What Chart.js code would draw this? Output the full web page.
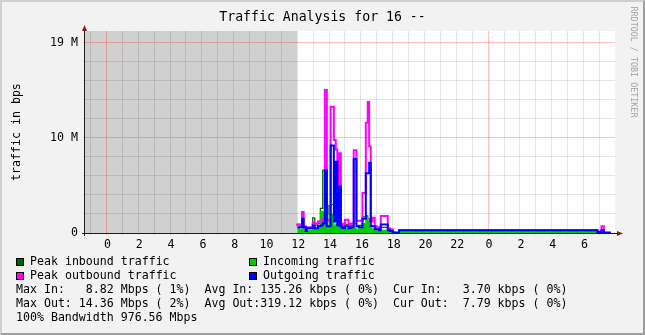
<!DOCTYPE html>
<html><head><meta charset="utf-8">
<script src="https://cdn.jsdelivr.net/npm/chart.js@4.4.1/dist/chart.umd.min.js"></script>
<style>
html,body{margin:0;padding:0;}
body{width:645px;height:335px;overflow:hidden;position:relative;background:#f2f2f2;font-family:'DejaVu Sans Mono',monospace;color:#000;}
#frame{position:absolute;left:0;top:0;width:645px;height:335px;box-sizing:border-box;border-style:solid;border-width:2px;border-color:#cfcfcf #9e9e9e #9e9e9e #cfcfcf;pointer-events:none;}
#c{position:absolute;left:0;top:0;}
.t{position:absolute;white-space:pre;font-size:11.6px;line-height:14px;}
.sw{position:absolute;width:6px;height:6px;border:1px solid #000;}
#title{position:absolute;left:0;top:9px;width:645px;text-align:center;font-size:13.2px;line-height:16px;white-space:pre;}
#ytitle{position:absolute;left:-84.5px;top:124.5px;width:200px;text-align:center;font-size:11.6px;line-height:14px;transform:rotate(-90deg);white-space:pre;}
#wm{position:absolute;left:534px;top:57px;width:200px;text-align:center;font-size:8.4px;line-height:10px;color:#a3a3a3;transform:rotate(90deg);white-space:pre;}
</style>
</head><body>
<canvas id="c" width="645" height="335"></canvas>
<div id="title">Traffic Analysis for 16 --</div>
<div id="ytitle">traffic in bps</div>
<div id="wm">RRDTOOL / TOBI OETIKER</div>
<div class="sw" style="left:16px;top:258px;background:#006400"></div>
<div class="t" style="left:30px;top:254px">Peak inbound traffic</div>
<div class="sw" style="left:249px;top:258px;background:#00cc00"></div>
<div class="t" style="left:263px;top:254px">Incoming traffic</div>
<div class="sw" style="left:16px;top:272px;background:#ff00ff"></div>
<div class="t" style="left:30px;top:268px">Peak outbound traffic</div>
<div class="sw" style="left:249px;top:272px;background:#0000ff"></div>
<div class="t" style="left:263px;top:268px">Outgoing traffic</div>
<div class="t" style="left:16px;top:282px">Max In:   8.82 Mbps ( 1%)  Avg In: 135.26 kbps ( 0%)  Cur In:   3.70 kbps ( 0%)</div>
<div class="t" style="left:16px;top:296px">Max Out: 14.36 Mbps ( 2%)  Avg Out:319.12 kbps ( 0%)  Cur Out:  7.79 kbps ( 0%)</div>
<div class="t" style="left:16px;top:310px">100% Bandwidth 976.56 Mbps</div>
<div id="frame"></div>
<script>
// ---- data (x in hours since midnight of first day, y in 1e6 bps) ----
const hours = [12.00,12.17,12.30,12.40,12.53,12.60,12.97,13.10,13.30,13.45,13.60,13.73,13.86,13.99,14.10,14.30,14.42,14.52,14.61,14.74,14.86,15.00,15.22,15.35,15.55,15.72,15.87,16.10,16.31,16.43,16.52,16.62,16.73,16.87,17.00,17.13,17.25,17.69,17.82,18.00,18.13,18.40,30.88,31.13,31.28,31.40,31.72];
const peakIn = [0.7,0.9,0.6,0.8,0.5,0.25,0.5,1.6,0.8,1.0,2.6,6.6,6.6,2.0,2.9,3.0,1.5,1.8,1.0,1.2,0.8,0.7,0.9,0.7,0.8,1.0,0.7,0.8,1.7,1.8,1.5,1.2,0.8,0.7,0.5,0.6,0.4,0.6,0.4,0.3,0.12,0.1,0.2,0.1,0.2,0.1,0.1];
const inTraffic = [0.45,0.5,0.4,0.5,0.3,0.1,0.3,0.6,0.5,0.6,2.3,2.2,1.0,0.8,2.1,2.0,0.8,1.0,0.6,0.7,0.5,0.4,0.5,0.4,0.5,0.5,0.4,0.5,1.0,1.7,1.2,0.8,0.5,0.4,0.3,0.3,0.2,0.3,0.2,0.15,0.1,0.1,0.15,0.1,0.15,0.1,0.1];
const peakOut = [0.8,0.9,0.8,2.2,0.7,0.3,0.6,1.1,1.0,1.2,1.2,1.5,15.05,1.4,1.3,13.3,9.8,8.8,1.3,8.4,1.0,0.9,1.4,0.9,1.0,8.7,1.3,1.3,4.2,11.6,13.8,9.1,1.2,1.6,0.7,0.6,0.5,1.8,0.5,0.4,0.05,0.0,0.3,0.15,0.7,0.0,0.0];
const outTraffic = [0.6,0.6,0.6,1.5,0.6,0.2,0.5,0.8,0.5,0.7,0.8,1.0,6.6,0.7,0.7,9.2,1.2,7.5,0.8,4.9,0.6,0.5,0.7,0.5,0.6,7.8,0.7,0.6,1.5,6.3,6.3,7.4,0.7,0.7,0.4,0.4,0.3,0.9,0.3,0.2,0.02,0.0,0.3,0.1,0.3,0.0,0.0];
const shadeEndHour = 12;
// ---- ticks ----
const xRange = [-1.35, 31.98];
const xGridHours = [-1,0,1,2,3,4,5,6,7,8,9,10,11,12,13,14,15,16,17,18,19,20,21,22,23,24,25,26,27,28,29,30,31];
const xLabelHours = [0,2,4,6,8,10,12,14,16,18,20,22,24,26,28,30];
const xLabelTexts = ['0','2','4','6','8','10','12','14','16','18','20','22','0','2','4','6'];
const xMajorHours = [0,24];
const yRange = [0, 21.26];
const yGridValues = [0,2,4,6,8,10,12,14,16,18,20];
const yLabelValues = [0,10,20];
const yLabelTexts = ['0','10 M','19 M'];
const yMajorValues = [10,20];

const pts = arr => hours.map((h,i)=>({x:h,y:arr[i]}));
const FONT = {family:'DejaVu Sans Mono', size:11.6};
const GRID = 'rgba(0,0,0,0.1)';
const MGRID = 'rgba(255,0,0,0.25)';

const rrdPlugin = {
  id:'rrd',
  beforeDraw(chart){
    const {ctx, chartArea:a, scales:{x}} = chart;
    ctx.save();
    ctx.fillStyle = '#ffffff';
    ctx.fillRect(a.left, a.top, a.right-a.left, a.bottom-a.top);
    const xe = Math.round(x.getPixelForValue(shadeEndHour));
    ctx.fillStyle = '#d0d0d0';
    ctx.fillRect(a.left, a.top, xe-a.left, a.bottom-a.top);
    ctx.restore();
  },
  afterDraw(chart){
    const {ctx, chartArea:a} = chart;
    ctx.save();
    ctx.strokeStyle = '#1f1f1f';
    ctx.lineWidth = 1;
    ctx.beginPath();
    ctx.moveTo(a.left-0.5, a.bottom+3); ctx.lineTo(a.left-0.5, a.top-3);
    ctx.moveTo(a.left-3, a.bottom+0.5); ctx.lineTo(a.right+3, a.bottom+0.5);
    ctx.stroke();
    ctx.fillStyle = '#801f1f';
    ctx.beginPath();
    ctx.moveTo(a.left-3, a.top); ctx.lineTo(a.left+2, a.top); ctx.lineTo(a.left-0.5, a.top-6); ctx.closePath();
    ctx.fill();
    ctx.beginPath();
    ctx.moveTo(a.right+2, a.bottom-2); ctx.lineTo(a.right+2, a.bottom+3); ctx.lineTo(a.right+8, a.bottom+0.5); ctx.closePath();
    ctx.fill();
    ctx.restore();
  }
};

new Chart(document.getElementById('c'), {
  type:'line',
  data:{
    datasets:[
      {label:'Outgoing traffic', data:pts(outTraffic), borderColor:'#0000ff', borderWidth:2, stepped:'after', pointRadius:0, fill:false, order:1, clip:0},
      {label:'Peak outbound traffic', data:pts(peakOut), borderColor:'#ff00ff', borderWidth:2, stepped:'after', pointRadius:0, fill:false, order:2, clip:0},
      {label:'Incoming traffic', data:pts(inTraffic), borderColor:'#00cc00', backgroundColor:'#00cc00', borderWidth:1, stepped:'after', pointRadius:0, fill:'origin', order:3, clip:0},
      {label:'Peak inbound traffic', data:pts(peakIn), borderColor:'#006400', borderWidth:1.2, stepped:'after', pointRadius:0, fill:false, order:4, clip:0}
    ]
  },
  options:{
    responsive:false, animation:false, devicePixelRatio:1,
    layout:{padding:{top:31,right:30,bottom:82,left:0}},
    plugins:{legend:{display:false}, title:{display:false}, tooltip:{enabled:false}},
    scales:{
      x:{
        type:'linear', min:xRange[0], max:xRange[1],
        afterFit(s){ s.height = 20; },
        afterBuildTicks(s){ s.ticks = xGridHours.map(v=>({value:v})); },
        ticks:{autoSkip:false, maxRotation:0, minRotation:0, padding:3, labelOffset:1, color:'#000', font:FONT,
          callback(v){ const i = xLabelHours.indexOf(v); return i>=0 ? xLabelTexts[i] : ''; }},
        grid:{drawTicks:true, tickLength:2, lineWidth:1,
          color(c){ return xMajorHours.includes(c.tick.value) ? MGRID : GRID; }},
        border:{display:false}
      },
      y:{
        type:'linear', min:yRange[0], max:yRange[1],
        afterFit(s){ s.width = 85; },
        afterBuildTicks(s){ s.ticks = yGridValues.map(v=>({value:v})); },
        ticks:{autoSkip:false, padding:5, color:'#000', font:FONT,
          callback(v){ const i = yLabelValues.indexOf(v); return i>=0 ? yLabelTexts[i] : ''; }},
        grid:{drawTicks:true, tickLength:2, lineWidth:1,
          color(c){ return yMajorValues.includes(c.tick.value) ? MGRID : GRID; }},
        border:{display:false}
      }
    }
  },
  plugins:[rrdPlugin]
});
</script>
</body></html>
